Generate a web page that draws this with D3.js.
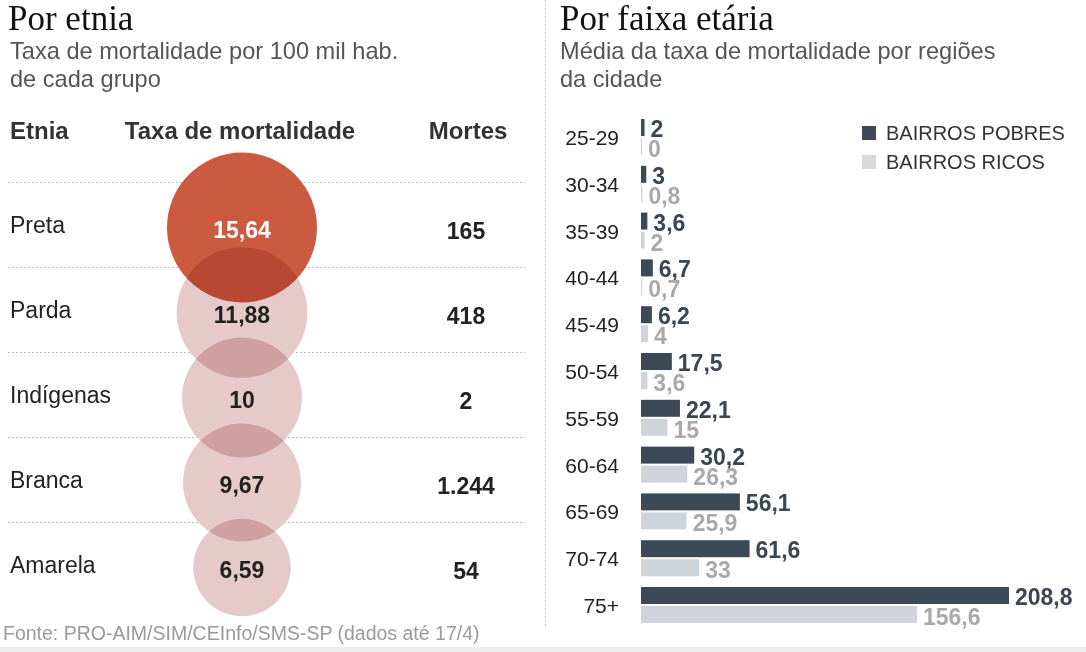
<!DOCTYPE html>
<html><head><meta charset="utf-8">
<script src="https://cdn.jsdelivr.net/npm/d3@7"></script>
<style>
html,body{margin:0;padding:0;background:#fff;}
svg{display:block;font-family:"Liberation Sans",Arial,Helvetica,sans-serif;}
</style></head>
<body>
<svg id="c" width="1086" height="652"></svg>
<script>
// ---- data ----
const etnias = ["Preta", "Parda", "Indígenas", "Branca", "Amarela"];
const taxas = [15.64, 11.88, 10, 9.67, 6.59];
const mortes = [165, 418, 2, 1244, 54];

const faixas = ["25-29","30-34","35-39","40-44","45-49","50-54","55-59","60-64","65-69","70-74","75+"];
const pobres = [2, 3, 3.6, 6.7, 6.2, 17.5, 22.1, 30.2, 56.1, 61.6, 208.8];
const ricos  = [0, 0.8, 2, 0.7, 4, 3.6, 15, 26.3, 25.9, 33, 156.6];
const series = ["BAIRROS POBRES", "BAIRROS RICOS"];

const pt = d3.formatLocale({decimal: ",", thousands: ".", grouping: [3], currency: ["R$", ""]});
const fDec = pt.format(",.2~f");
const fInt = pt.format(",d");

const svg = d3.select("#c");
svg.append("rect").attr("width",1086).attr("height",652).attr("fill","#fff");
svg.append("rect").attr("x",0).attr("y",647).attr("width",1086).attr("height",5).attr("fill","#ececec");

// separator
svg.append("line").attr("x1",545.5).attr("x2",545.5).attr("y1",0).attr("y2",626)
  .attr("stroke","#c8c8c8").attr("stroke-width",1).attr("stroke-dasharray","2,2");

// ---------- LEFT PANEL ----------
const L = svg.append("g");
L.append("text").attr("x",8).attr("y",30).attr("font-family","'Liberation Serif','Times New Roman',serif")
  .attr("font-size",35).attr("fill","#111").text("Por etnia");
L.append("text").attr("x",10).attr("y",59).attr("font-size",23.6).attr("fill","#555").text("Taxa de mortalidade por 100 mil hab.");
L.append("text").attr("x",10).attr("y",87).attr("font-size",23.6).attr("fill","#555").text("de cada grupo");

L.append("text").attr("x",10).attr("y",139).attr("font-size",24).attr("font-weight","bold").attr("fill","#333").text("Etnia");
L.append("text").attr("x",240).attr("y",139).attr("font-size",24).attr("font-weight","bold").attr("fill","#333").attr("text-anchor","middle").text("Taxa de mortalidade");
L.append("text").attr("x",468).attr("y",139).attr("font-size",24).attr("font-weight","bold").attr("fill","#333").attr("text-anchor","middle").text("Mortes");

const yRow = d3.scaleBand().domain(etnias).range([182, 607]);
const rScale = d3.scaleSqrt().domain([0, d3.max(taxas)]).range([0, 75]);
const cx = 242;

L.selectAll("line.row").data(etnias).join("line").attr("class","row")
  .attr("x1",8).attr("x2",525)
  .attr("y1",d=>yRow(d)+0.5).attr("y2",d=>yRow(d)+0.5)
  .attr("stroke","#bdbdbd").attr("stroke-width",1).attr("stroke-dasharray","2,2");

const circ = L.append("g").style("isolation","isolate");
circ.selectAll("circle").data(etnias).join("circle")
  .attr("cx",cx)
  .attr("cy",d=>yRow(d)+yRow.bandwidth()/2+3)
  .attr("r",(d,i)=>rScale(taxas[i]))
  .attr("fill",(d,i)=>i===0 ? "#cc5a40" : "#e6caca")
  .style("mix-blend-mode","multiply");

L.selectAll("text.name").data(etnias).join("text").attr("class","name")
  .attr("x",10).attr("y",d=>yRow(d)+yRow.bandwidth()/2+8.5)
  .attr("font-size",23).attr("fill","#222").text(d=>d);

L.selectAll("text.taxa").data(etnias).join("text").attr("class","taxa")
  .attr("x",cx).attr("y",d=>yRow(d)+yRow.bandwidth()/2+13.5)
  .attr("text-anchor","middle").attr("font-size",23).attr("font-weight","bold")
  .attr("fill",(d,i)=>i===0 ? "#fff" : "#222").text((d,i)=>fDec(taxas[i]));

L.selectAll("text.mortes").data(etnias).join("text").attr("class","mortes")
  .attr("x",466).attr("y",d=>yRow(d)+yRow.bandwidth()/2+14)
  .attr("text-anchor","middle").attr("font-size",23).attr("font-weight","bold")
  .attr("fill","#222").text((d,i)=>fInt(mortes[i]));

L.append("text").attr("x",3).attr("y",640).attr("font-size",19.5).attr("fill","#9a9a9a")
  .text("Fonte: PRO-AIM/SIM/CEInfo/SMS-SP (dados até 17/4)");

// ---------- RIGHT PANEL ----------
const R = svg.append("g");
R.append("text").attr("x",560).attr("y",30).attr("font-family","'Liberation Serif','Times New Roman',serif")
  .attr("font-size",35).attr("fill","#111").text("Por faixa etária");
R.append("text").attr("x",560).attr("y",59).attr("font-size",23.6).attr("fill","#555").text("Média da taxa de mortalidade por regiões");
R.append("text").attr("x",560).attr("y",87).attr("font-size",23.6).attr("fill","#555").text("da cidade");

const x = d3.scaleLinear().domain([0, 208.8]).range([641, 1009]);
const yG = d3.scaleBand().domain(faixas).range([113.6, 628.4]);
const colDark = "#3c4a57", colLight = "#cfd4db";

const grp = R.selectAll("g.grp").data(faixas).join("g").attr("class","grp")
  .attr("transform",d=>`translate(0,${yG(d)+yG.bandwidth()/2})`);

grp.append("text").attr("x",619).attr("y",8).attr("text-anchor","end")
  .attr("font-size",21).attr("fill","#222").text(d=>d);

grp.append("rect").attr("x",x(0)).attr("y",-18).attr("height",17)
  .attr("width",(d,i)=>Math.max(1, x(pobres[i])-x(0))).attr("fill",colDark);
grp.append("rect").attr("x",x(0)).attr("y",1).attr("height",17)
  .attr("width",(d,i)=>Math.max(1, x(ricos[i])-x(0))).attr("fill",colLight);

grp.append("text").attr("x",(d,i)=>Math.max(x(pobres[i]), x(0)+1)+6).attr("y",0)
  .attr("font-size",23).attr("font-weight","bold").attr("fill","#3a4652")
  .text((d,i)=>fDec(pobres[i]));
grp.append("text").attr("x",(d,i)=>Math.max(x(ricos[i]), x(0)+1)+6).attr("y",20)
  .attr("font-size",23).attr("font-weight","bold").attr("fill","#a9a9a9")
  .text((d,i)=>fDec(ricos[i]));

// legend
const leg = R.selectAll("g.leg").data(series).join("g").attr("class","leg")
  .attr("transform",(d,i)=>`translate(862,${126+i*29})`);
leg.append("rect").attr("width",14).attr("height",14).attr("fill",(d,i)=>i===0?colDark:"#d9d9d9");
leg.append("text").attr("x",24).attr("y",14).attr("font-size",20).attr("fill","#333").text(d=>d);
</script>
</body></html>
